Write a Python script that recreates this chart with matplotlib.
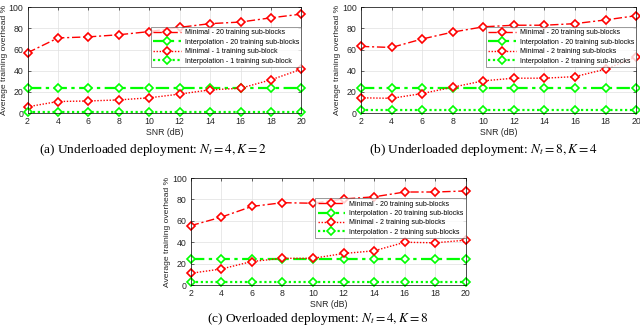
import numpy as np
import matplotlib
matplotlib.use("Agg")
import matplotlib.pyplot as plt

plt.rcParams.update({
    "font.family": "Liberation Sans",
    "font.size": 6.3,
    "mathtext.fontset": "stix",
    "xtick.direction": "in",
    "ytick.direction": "in",
    "xtick.major.size": 2,
    "ytick.major.size": 2,
    "axes.linewidth": 0.5,
})

snr = [2, 4, 6, 8, 10, 12, 14, 16, 18, 20]

# (a) Nt=4, K=2
a_min20 = [57, 71, 72, 74, 77, 81, 84.5, 86, 90, 93.5]
a_int20 = [24, 24, 24, 24, 24, 24, 24, 24, 24, 24]
a_min1 = [6, 11, 11.5, 12.5, 14.5, 18, 22, 23.5, 31.5, 41.5]
a_int1 = [1.5, 1.5, 1.5, 1.5, 1.5, 1.5, 1.5, 1.5, 1.5, 1.5]

# (b) Nt=8, K=4
b_min20 = [63, 62, 70, 76.5, 81.5, 83, 83, 84.5, 88, 92]
b_int20 = [24, 24, 24, 24, 24, 24, 24, 24, 24, 24]
b_min2 = [14.5, 14, 18.5, 24.5, 30.5, 33, 33, 34.5, 41.5, 53]
b_int2 = [3, 3, 3, 3, 3, 3, 3, 3, 3, 3]

# (c) Nt=4, K=8
c_min20 = [55.5, 63.5, 73.5, 77, 76.5, 80.5, 82.5, 87, 87, 88]
c_int20 = [24, 24, 24, 24, 24, 24, 24, 24, 24, 24]
c_min2 = [11, 15, 22, 25, 25, 29.5, 32, 40, 39.5, 42]
c_int2 = [3, 3, 3, 3, 3, 3, 3, 3, 3, 3]

labels_a = ["Minimal - 20 training sub-blocks",
            "Interpolation - 20 training sub-blocks",
            "Minimal - 1 training sub-block",
            "Interpolation - 1 training sub-block"]
labels_bc = ["Minimal - 20 training sub-blocks",
             "Interpolation - 20 training sub-blocks",
             "Minimal - 2 training sub-blocks",
             "Interpolation - 2 training sub-blocks"]

captions = [r"(a) Underloaded deployment: $N_t = 4, K = 2$",
            r"(b) Underloaded deployment: $N_t = 8, K = 4$",
            r"(c) Overloaded deployment: $N_t = 4, K = 8$"]

red = "#ff0000"
green = "#00ff00"


def draw_panel(ax, series, labels, caption, cap_x, cap_y):
    styles = [
        (red, (0, (6, 2, 1.5, 2)), 1.0),
        (green, (0, (6, 2, 1.5, 2)), 1.6),
        (red, (0, (1, 1.2)), 1.0),
        (green, (0, (1, 1.2)), 1.6),
    ]
    for ys, lab, (col, ls, lw) in zip(series, labels, styles):
        ax.plot(snr, ys, color=col, linestyle=ls, lw=lw, marker="D",
                markersize=4.3, markerfacecolor="white", markeredgecolor=col,
                markeredgewidth=1.2, label=lab, clip_on=False)
    ax.set_xlim(2, 20)
    ax.set_ylim(0, 100)
    ax.set_xticks(snr)
    ax.set_yticks([0, 20, 40, 60, 80, 100])
    ax.grid(True, color="0.88", lw=0.5)
    ax.tick_params(top=True, right=True, width=0.5, pad=3, colors="0.15")
    ax.set_xlabel("SNR (dB)", labelpad=1.5, color="0.15")
    ax.set_ylabel("Average training overhead %", labelpad=0.5, color="0.15",
                  fontsize=6.1)
    leg = ax.legend(loc="upper right", bbox_to_anchor=(1.0, 0.81),
                    fontsize=5, frameon=True, fancybox=False,
                    edgecolor="0.3", borderpad=0.3, labelspacing=0.35,
                    handlelength=4.0, handletextpad=0.6, borderaxespad=0)
    leg.get_frame().set_linewidth(0.5)
    ax.text(cap_x, cap_y, caption, transform=ax.transAxes, ha="center",
            va="center", fontsize=9.6, family="Liberation Serif")


fig = plt.figure(figsize=(6.4, 3.28), dpi=100)

ax_a = fig.add_axes([0.043, 0.655, 0.428, 0.323])
ax_b = fig.add_axes([0.564, 0.655, 0.430, 0.323])
ax_c = fig.add_axes([0.298, 0.131, 0.430, 0.326])

draw_panel(ax_a, [a_min20, a_int20, a_min1, a_int1], labels_a, captions[0],
           0.458, -0.35)
draw_panel(ax_b, [b_min20, b_int20, b_min2, b_int2], labels_bc, captions[1],
           0.444, -0.35)
draw_panel(ax_c, [c_min20, c_int20, c_min2, c_int2], labels_bc, captions[2],
           0.46, -0.315)

fig.savefig("out.png", dpi=100)
